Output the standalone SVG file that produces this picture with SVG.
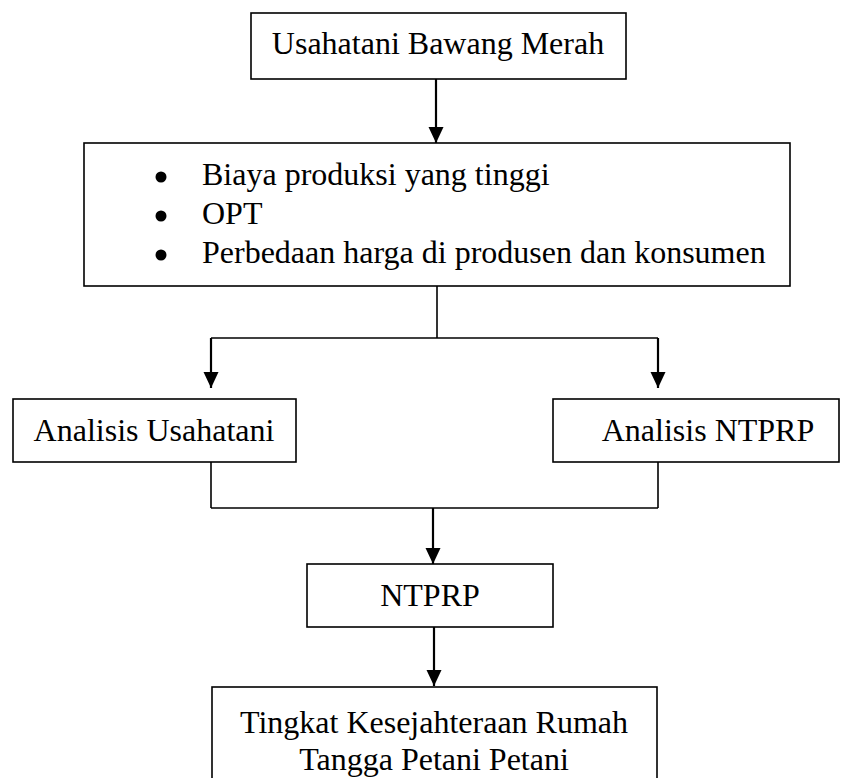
<svg xmlns="http://www.w3.org/2000/svg" width="846" height="778" viewBox="0 0 846 778">
<style>
.box{fill:#fff;stroke:#000;stroke-width:1.6}
.t{font-family:"Liberation Serif","Times New Roman",serif;font-size:32px;fill:#000}
.c{text-anchor:middle}
.ln{fill:none;stroke:#000;stroke-width:1.6}
.ar{fill:none;stroke:#000;stroke-width:2.2}
</style>
<defs>
<marker id="ah" markerUnits="userSpaceOnUse" markerWidth="16" markerHeight="16" refX="16" refY="7.5" orient="auto">
<path d="M0,0 L16,7.5 L0,15 z" fill="#000"/>
</marker>
</defs>
<rect width="846" height="778" fill="#fff"/>
<g id="connectors">
<line class="ar" x1="436" y1="79" x2="436" y2="143" marker-end="url(#ah)"/>
<line class="ln" x1="437" y1="286" x2="437" y2="338"/>
<line class="ln" x1="211" y1="338" x2="658" y2="338"/>
<line class="ar" x1="211" y1="338" x2="211" y2="388" marker-end="url(#ah)"/>
<line class="ar" x1="658" y1="338" x2="658" y2="388" marker-end="url(#ah)"/>
<line class="ln" x1="211" y1="462" x2="211" y2="508"/>
<line class="ln" x1="658" y1="462" x2="658" y2="508"/>
<line class="ln" x1="211" y1="508" x2="658" y2="508"/>
<line class="ar" x1="433" y1="508" x2="433" y2="564" marker-end="url(#ah)"/>
<line class="ar" x1="434" y1="627" x2="434" y2="686" marker-end="url(#ah)"/>
</g>
<g id="node-usahatani">
<rect class="box" x="251" y="13" width="375" height="66"/>
<text class="t c" x="438" y="54">Usahatani Bawang Merah</text>
</g>
<g id="node-masalah">
<rect class="box" x="84" y="143" width="706" height="143"/>
<circle cx="161" cy="177" r="5.5"/>
<circle cx="161" cy="216" r="5.5"/>
<circle cx="161" cy="255" r="5.5"/>
<text class="t" x="202" y="185">Biaya produksi yang tinggi</text>
<text class="t" x="202" y="224">OPT</text>
<text class="t" x="202" y="263">Perbedaan harga di produsen dan konsumen</text>
</g>
<g id="node-analisis-usahatani">
<rect class="box" x="13" y="399" width="283" height="63"/>
<text class="t c" x="154" y="441">Analisis Usahatani</text>
</g>
<g id="node-analisis-ntprp">
<rect class="box" x="553" y="399" width="286" height="63"/>
<text class="t c" x="708" y="441">Analisis NTPRP</text>
</g>
<g id="node-ntprp">
<rect class="box" x="307" y="564" width="246" height="63"/>
<text class="t c" x="430" y="606">NTPRP</text>
</g>
<g id="node-kesejahteraan">
<rect class="box" x="212" y="687" width="445" height="110"/>
<text class="t c" x="434" y="733">Tingkat Kesejahteraan Rumah</text>
<text class="t c" x="434" y="770">Tangga Petani Petani</text>
</g>
</svg>
